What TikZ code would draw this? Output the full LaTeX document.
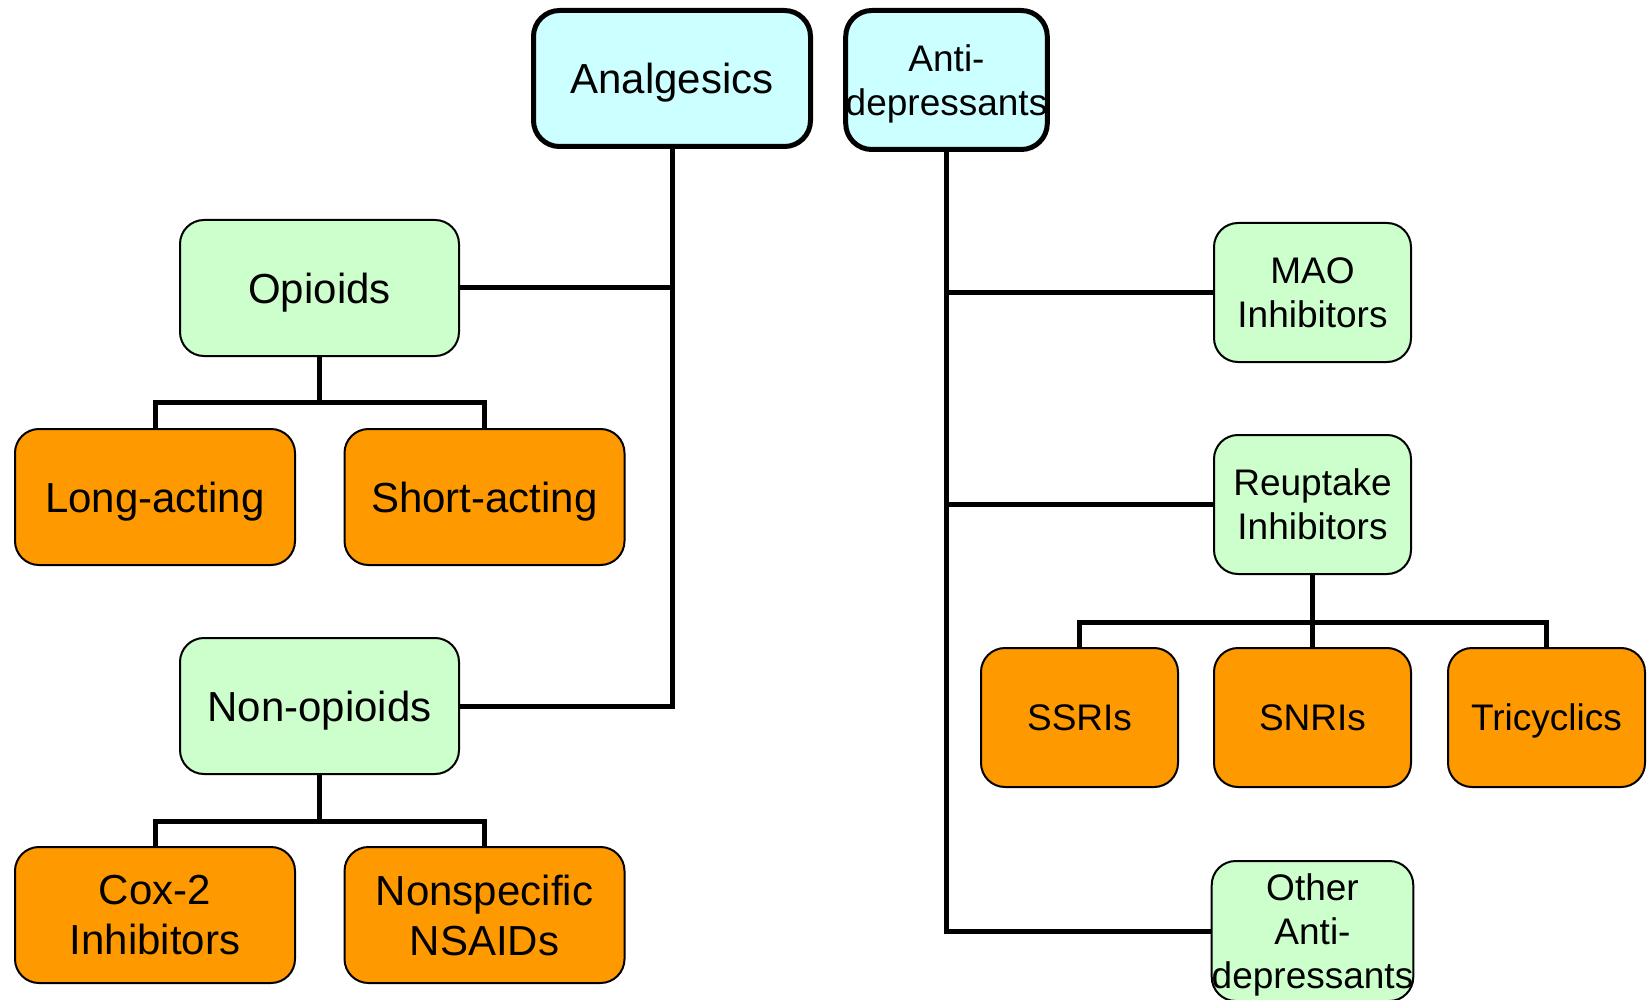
\documentclass[tikz,border=0pt]{standalone}
\usepackage{fontspec}
\setmainfont{Liberation Sans}
\definecolor{topcyan}{HTML}{CCFFFF}
\definecolor{midgreen}{HTML}{CCFFCC}
\definecolor{leaforange}{HTML}{FF9900}
\newcommand\nodepth[1]{\raisebox{0pt}[\height][0pt]{#1}}

\begin{document}
\begin{tikzpicture}[x=1pt, y=-1pt,
  topbox/.style={draw, line width=5pt, rounded corners=26pt, fill=topcyan, inner sep=0pt, align=center},
  midbox/.style={draw, line width=2pt, rounded corners=24pt, fill=midgreen, inner sep=0pt, align=center},
  leafbox/.style={midbox, fill=leaforange},
  big/.style={font=\fontsize{42}{50}\selectfont},
  small/.style={font=\fontsize{37}{44}\selectfont},
  oneline/.style={text depth=0pt},
  link/.style={line width=5pt}]
  \useasboundingbox (0,0) rectangle (1652,1000);
  % left tree
  \node[topbox, big, oneline, minimum width=277pt, minimum height=136pt] (ana) at (672,78.5) {Analgesics};
  \node[midbox, big, oneline, minimum width=279pt, minimum height=136pt] (opi) at (319.5,288) {Opioids};
  \node[midbox, big, oneline, minimum width=279pt, minimum height=136pt] (non) at (319.5,706) {Non-opioids};
  \node[leafbox, big, oneline, minimum width=280pt, minimum height=136pt] (long) at (155,497) {Long-acting};
  \node[leafbox, big, oneline, minimum width=280pt, minimum height=136pt] (short) at (484.5,497) {Short-acting};
  \node[leafbox, big, minimum width=280pt, minimum height=136pt] (cox) at (155,915) {Cox-2\\Inhibitors};
  \node[leafbox, big, minimum width=280pt, minimum height=136pt] (nsaid) at (484.5,915) {Nonspecific\\NSAIDs};
  % right tree
  \node[topbox, small, minimum width=195pt, minimum height=139pt] (anti) at (946.5,80) {Anti-\\\nodepth{depressants}};
  \node[midbox, small, minimum width=197pt, minimum height=139pt] (mao) at (1312.5,292.5) {MAO\\Inhibitors};
  \node[midbox, small, minimum width=197pt, minimum height=139pt] (reup) at (1312.5,504.5) {Reuptake\\Inhibitors};
  \node[leafbox, small, oneline, minimum width=197pt, minimum height=139pt] (ssri) at (1079.5,717.5) {SSRIs};
  \node[leafbox, small, oneline, minimum width=197pt, minimum height=139pt] (snri) at (1312.5,717.5) {SNRIs};
  \node[leafbox, small, oneline, minimum width=197pt, minimum height=139pt] (tri) at (1546.5,717.5) {Tricyclics};
  \node[midbox, small, minimum width=197pt, minimum height=140pt] (other) at (1312.5,931) {Other\\Anti-\\\nodepth{depressants}};
  % bars
  \coordinate (opibar) at (319.5,402);
  \coordinate (nonbar) at (319.5,821);
  \coordinate (reupbar) at (1312.5,622);
  % links
  \draw[link] (ana.south) |- (non.east);
  \draw[link] (ana.south |- opi.east) -- (opi.east);
  \draw[link] (opi.south) -- (opibar);
  \draw[link] (long.north) |- (opibar) -| (short.north);
  \draw[link] (non.south) -- (nonbar);
  \draw[link] (cox.north) |- (nonbar) -| (nsaid.north);
  \draw[link] (anti.south) |- (other.west);
  \draw[link] (anti.south |- mao.west) -- (mao.west);
  \draw[link] (anti.south |- reup.west) -- (reup.west);
  \draw[link] (reup.south) -- (snri.north);
  \draw[link] (ssri.north) |- (reupbar) -| (tri.north);
\end{tikzpicture}
\end{document}
